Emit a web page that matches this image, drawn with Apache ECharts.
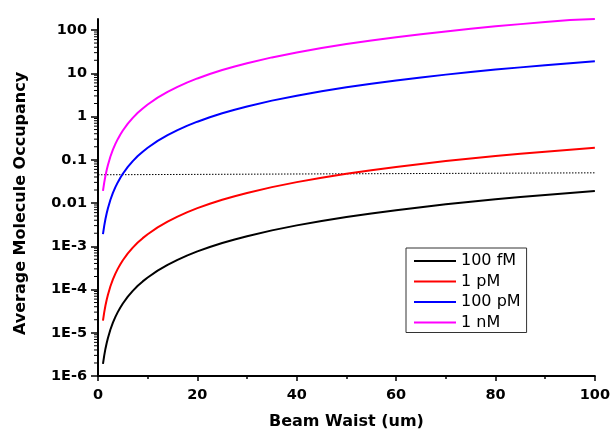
<!DOCTYPE html>
<html>
<head>
<meta charset="utf-8">
<script src="https://cdn.jsdelivr.net/npm/echarts@6/dist/echarts.min.js"></script>
<style>
  html, body { margin: 0; padding: 0; background: #fff; }
  #chart { width: 613px; height: 435px; }
</style>
</head>
<body>
<div id="chart"></div>
<script>
// Beam waist (um) at which each curve is sampled
const waist = [1, 1.25, 1.5, 1.75, 2, 2.5, 3, 3.5, 4, 4.5, 5, 6, 7, 8, 9, 10, 12, 14, 16, 18, 20, 22.5, 25, 27.5, 30, 35, 40, 45, 50, 55, 60, 65, 70, 75, 80, 85, 90, 95, 100];

// Average molecule occupancy for each concentration
const occ100fM = [1.90e-6, 2.97e-6, 4.28e-6, 5.82e-6, 7.60e-6, 1.19e-5, 1.71e-5, 2.33e-5, 3.04e-5, 3.85e-5, 4.75e-5, 6.84e-5, 9.31e-5, 1.22e-4, 1.54e-4, 1.90e-4, 2.74e-4, 3.72e-4, 4.86e-4, 6.16e-4, 7.60e-4, 9.62e-4, 1.19e-3, 1.44e-3, 1.71e-3, 2.33e-3, 3.04e-3, 3.85e-3, 4.75e-3, 5.75e-3, 6.84e-3, 8.03e-3, 9.31e-3, 1.07e-2, 1.22e-2, 1.37e-2, 1.54e-2, 1.71e-2, 1.90e-2];
const occ1pM   = [1.90e-5, 2.97e-5, 4.28e-5, 5.82e-5, 7.60e-5, 1.19e-4, 1.71e-4, 2.33e-4, 3.04e-4, 3.85e-4, 4.75e-4, 6.84e-4, 9.31e-4, 1.22e-3, 1.54e-3, 1.90e-3, 2.74e-3, 3.72e-3, 4.86e-3, 6.16e-3, 7.60e-3, 9.62e-3, 1.19e-2, 1.44e-2, 1.71e-2, 2.33e-2, 3.04e-2, 3.85e-2, 4.75e-2, 5.75e-2, 6.84e-2, 8.03e-2, 9.31e-2, 0.107, 0.122, 0.137, 0.154, 0.171, 0.190];
const occ100pM = [1.90e-3, 2.97e-3, 4.28e-3, 5.82e-3, 7.60e-3, 1.19e-2, 1.71e-2, 2.33e-2, 3.04e-2, 3.85e-2, 4.75e-2, 6.84e-2, 9.31e-2, 0.122, 0.154, 0.190, 0.274, 0.372, 0.486, 0.616, 0.760, 0.962, 1.19, 1.44, 1.71, 2.33, 3.04, 3.85, 4.75, 5.75, 6.84, 8.03, 9.31, 10.7, 12.2, 13.7, 15.4, 17.1, 19.0];
const occ1nM   = [1.90e-2, 2.97e-2, 4.28e-2, 5.82e-2, 7.60e-2, 0.119, 0.171, 0.233, 0.304, 0.385, 0.475, 0.684, 0.931, 1.22, 1.54, 1.90, 2.74, 3.72, 4.86, 6.16, 7.60, 9.62, 11.9, 14.4, 17.1, 23.3, 30.4, 38.5, 47.5, 57.5, 68.4, 80.3, 93.1, 107, 122, 137, 154, 171, 180];

// Single-occupancy threshold line (dotted)
const thresholdX = [0, 102];
const thresholdY = [0.045, 0.05];

const seriesNames = ['100 fM', '1 pM', '100 pM', '1 nM'];
const seriesColors = ['#000000', '#ff0000', '#0000ff', '#ff00ff'];

// Y tick labels per decade exponent
const yTickLabels = { '-6': '1E-6', '-5': '1E-5', '-4': '1E-4', '-3': '1E-3', '-2': '0.01', '-1': '0.1', '0': '1', '1': '10', '2': '100' };
const decades = [-6, -5, -4, -3, -2, -1, 0, 1, 2];
const minorSteps = [2, 3, 4, 5, 6, 7, 8, 9];

const Y_MIN = 1e-6, Y_MAX = 180;
const FONT = 'DejaVu Sans';

const pairs = (xs, ys) => xs.map((x, i) => [x, ys[i]]);

// log-spaced minor tick values on the y axis
const minorTickValues = [];
decades.forEach(d => minorSteps.forEach(k => {
  const v = k * Math.pow(10, d);
  if (v < Y_MAX) minorTickValues.push(v);
}));

const curves = [occ100fM, occ1pM, occ100pM, occ1nM].map((ys, i) => ({
  name: seriesNames[i],
  type: 'line',
  data: pairs(waist, ys),
  smooth: false,
  symbol: 'none',
  lineStyle: { color: seriesColors[i], width: 2, join: 'round' },
  itemStyle: { color: seriesColors[i] },
  z: 3
}));

const chart = echarts.init(document.getElementById('chart'), null, { renderer: 'canvas' });
chart.setOption({
  animation: false,
  backgroundColor: '#ffffff',
  grid: { left: 98, right: 17, top: 19, bottom: 58, containLabel: false },
  legend: {
    data: seriesNames,
    orient: 'vertical',
    left: 406,
    top: 248,
    icon: 'rect',
    itemWidth: 42,
    itemHeight: 2,
    itemGap: 4.5,
    padding: [5, 6, 2, 8],
    borderColor: '#333',
    borderWidth: 1,
    textStyle: { fontFamily: FONT, fontSize: 16, color: '#000' }
  },
  xAxis: {
    type: 'value',
    min: 0,
    max: 100,
    interval: 20,
    name: 'Beam Waist (um)',
    nameLocation: 'middle',
    nameGap: 38,
    nameTextStyle: { fontFamily: FONT, fontSize: 16, fontWeight: 'bold', color: '#000' },
    axisLine: { lineStyle: { color: '#000', width: 2 } },
    axisTick: { length: 5, lineStyle: { color: '#000', width: 1.5 } },
    minorTick: { show: true, splitNumber: 2, length: 3, lineStyle: { color: '#000', width: 1.5 } },
    splitLine: { show: false },
    axisLabel: { margin: 12, fontFamily: FONT, fontSize: 14.5, fontWeight: 'bold', color: '#000' }
  },
  yAxis: {
    type: 'log',
    logBase: 10,
    min: Y_MIN,
    max: Y_MAX,
    splitNumber: 10,
    name: 'Average Molecule Occupancy',
    nameLocation: 'middle',
    nameGap: 69,
    nameTextStyle: { fontFamily: FONT, fontSize: 16, fontWeight: 'bold', color: '#000', padding: [0, 12, 0, 0] },
    axisLine: { lineStyle: { color: '#000', width: 2 } },
    axisTick: { length: 7, lineStyle: { color: '#000', width: 1.5 } },
    splitLine: { show: false },
    axisLabel: {
      margin: 11,
      showMaxLabel: false,
      fontFamily: FONT, fontSize: 14.5, fontWeight: 'bold', color: '#000',
      formatter: v => {
        const e = Math.round(Math.log10(v));
        return yTickLabels[String(e)] || '';
      }
    }
  },
  series: curves.concat([
    {
      name: 'threshold',
      type: 'line',
      data: pairs(thresholdX, thresholdY),
      symbol: 'none',
      clip: false,
      lineStyle: { color: '#000', width: 1, type: [1.5, 1.5] },
      z: 2,
      silent: true
    },
    {
      name: 'minorTicks',
      type: 'custom',
      silent: true,
      clip: false,
      data: minorTickValues.map(v => [0, v]),
      renderItem: (params, api) => {
        const p = api.coord([0, api.value(1)]);
        return {
          type: 'line',
          shape: { x1: p[0] - 4, y1: p[1], x2: p[0], y2: p[1] },
          style: { stroke: '#000', lineWidth: 1 }
        };
      },
      z: 4
    }
  ])
});
</script>
</body>
</html>
